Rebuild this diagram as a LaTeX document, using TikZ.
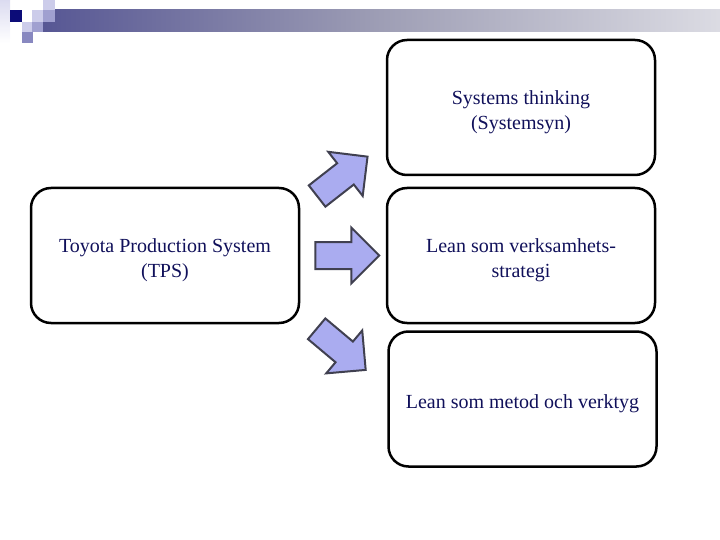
\documentclass[tikz,border=0pt]{standalone}
\usepackage{fontspec}
\setmainfont{Liberation Serif}
\usetikzlibrary{shapes.arrows}
\definecolor{navytext}{RGB}{16,16,90}
\definecolor{arrowfill}{RGB}{170,172,240}
\definecolor{arrowline}{RGB}{64,64,80}
\definecolor{sqdark}{RGB}{12,12,120}
\definecolor{sqlight}{RGB}{204,204,234}
\definecolor{sqmid}{RGB}{136,136,192}
\definecolor{sqmidlight}{RGB}{160,160,208}
\pgfdeclarehorizontalshading{barshade}{100bp}{rgb(0bp)=(0.11,0.11,0.47); rgb(25bp)=(0.34,0.34,0.58); rgb(50bp)=(0.62,0.62,0.71); rgb(75bp)=(0.86,0.86,0.89); rgb(100bp)=(0.99,0.99,0.99)}
\tikzset{
  box/.style={draw=black, line width=2.5pt, rounded corners=20pt, minimum width=268pt, minimum height=135pt},
  boxtext/.style={align=center, text=navytext, font=\fontsize{20}{25}\selectfont, inner sep=0pt},
  blockarrow/.style={single arrow, draw=arrowline, fill=arrowfill, line width=2pt,
    inner sep=12.5pt, single arrow head extend=14.5pt, minimum height=64pt, single arrow tip angle=90},
}
\begin{document}
\begin{tikzpicture}[x=1pt, y=-1pt]
\useasboundingbox (0,0) rectangle (720,540);
% header decoration
\shade[top color=sqlight!70, bottom color=white] (0,0) rectangle (10,43);
\fill[shading=barshade] (43,10) rectangle (720,32);
\fill[sqdark] (10,10) rectangle (22,22);
\fill[sqlight] (22,22) rectangle (32,32);
\fill[sqmid] (22,32) rectangle (33,43);
\fill[sqlight] (32,10) rectangle (43,22);
\fill[sqmidlight] (32,22) rectangle (43,32);
\fill[sqlight] (43,0) rectangle (55,10);
\fill[sqmidlight] (43,10) rectangle (55,22);
% boxes
\node[box] (tps) at (165,255.5) {};
\node[box] (sys) at (521,107.5) {};
\node[box] (strat) at (521,255.5) {};
\node[box] (tool) at (522.5,399) {};
% texts
\node[boxtext] (tpstext) at ([yshift=-4.5pt]tps.center) {Toyota Production System\\(TPS)};
\node[boxtext] (systext) at ([yshift=-4.5pt]sys.center) {Systems thinking\\(Systemsyn)};
\node[boxtext] (strattext) at ([yshift=-4.5pt]strat.center) {Lean som verksamhets-\\strategi};
\node[boxtext] (tooltext) at ([yshift=-4.5pt]tool.center) {Lean som metod och verktyg};
% arrows
\node[blockarrow, rotate=38] (aup) at (337,180.5) {};
\node[blockarrow] (amid) at (340.5,255.5) {};
\node[blockarrow, rotate=-40] (adown) at (336,345) {};
\end{tikzpicture}
\end{document}
